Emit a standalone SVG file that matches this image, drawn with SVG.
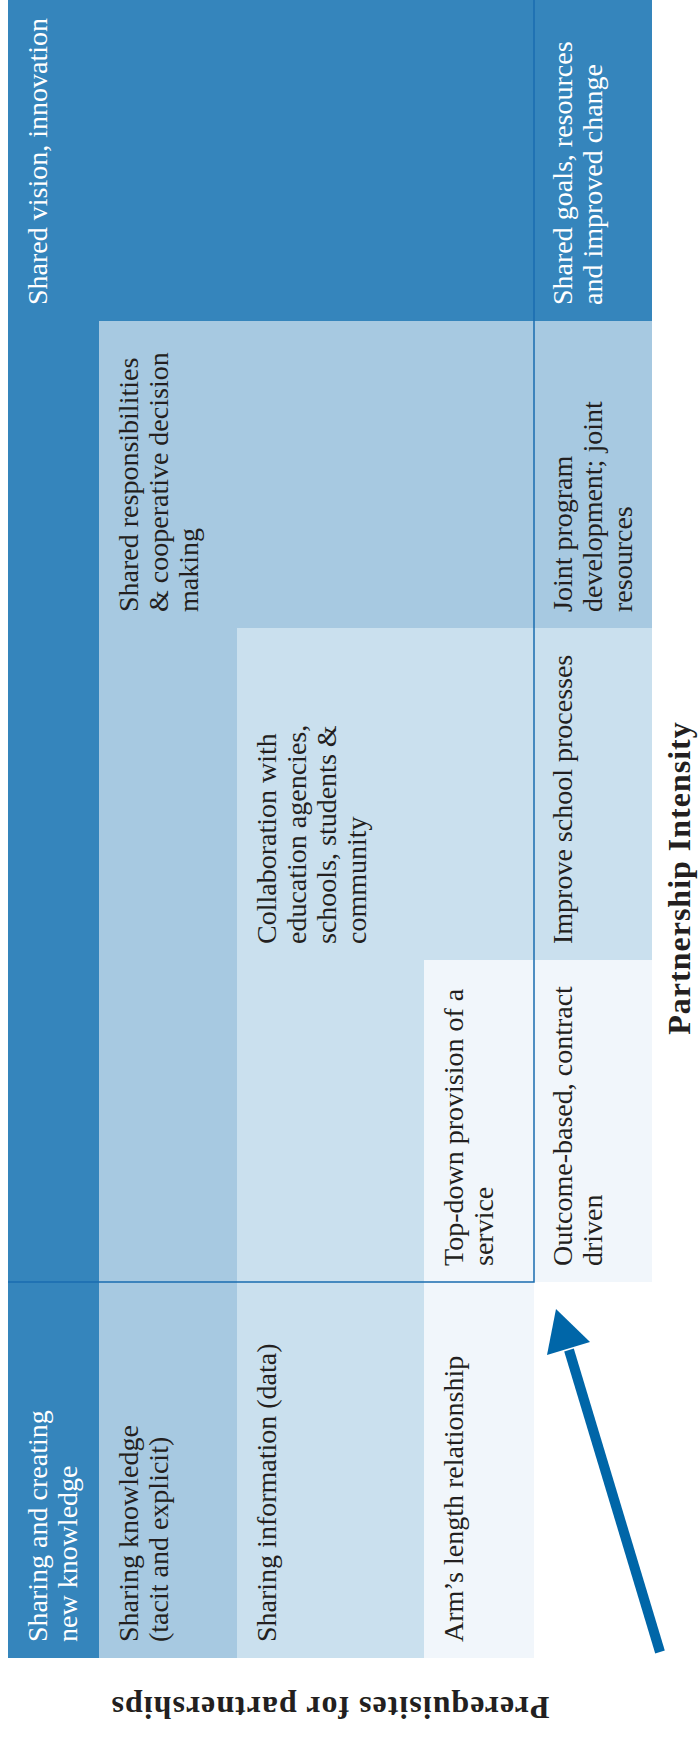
<svg xmlns="http://www.w3.org/2000/svg" width="699" height="1747" viewBox="0 0 699 1747">
<style>
.t{font-family:"Liberation Serif","Times New Roman",serif;font-size:28px}
.w{fill:#ffffff}
.k{fill:#231f20}
.b{font-family:"Liberation Serif","Times New Roman",serif;font-size:32px;font-weight:bold;fill:#231f20;letter-spacing:1px}
.c1{fill:#3585bc}
.c2{fill:#a7c9e1}
.c3{fill:#cae0ee}
.c4{fill:#f1f6fb}
.rule{stroke:#1a6cb0;stroke-width:1.5;fill:none}
.arrow{fill:#0066a8}
</style>
<g id="bands">
<rect class="c1" x="8" y="0" width="644" height="321"/>
<rect class="c1" x="8" y="321" width="91" height="1337"/>
<rect class="c2" x="99" y="321" width="553" height="307"/>
<rect class="c2" x="99" y="628" width="138" height="1030"/>
<rect class="c3" x="237" y="628" width="415" height="332"/>
<rect class="c3" x="237" y="960" width="187" height="698"/>
<rect class="c4" x="424" y="960" width="228" height="322"/>
<rect class="c4" x="424" y="1282" width="110" height="376"/>
</g>
<g id="connectors">
<path class="rule" d="M534,0 V1282 H8"/>
<path d="M660,1652 L569,1350" stroke="#0066a8" stroke-width="10" fill="none"/>
<polygon class="arrow" points="556,1309 590,1342 547,1355"/>
</g>
<g id="node-shared-vision">
<text class="t w" transform="translate(47,305) rotate(-90)"><tspan x="0" y="0">Shared vision, innovation</tspan></text>
</g>
<g id="node-shared-goals">
<text class="t w" transform="translate(572,305) rotate(-90)"><tspan x="0" y="0">Shared goals, resources</tspan><tspan x="0" dy="30">and improved change</tspan></text>
</g>
<g id="node-shared-responsibilities">
<text class="t k" transform="translate(138,612) rotate(-90)"><tspan x="0" y="0">Shared responsibilities</tspan><tspan x="0" dy="30">&amp; cooperative decision</tspan><tspan x="0" dy="30">making</tspan></text>
</g>
<g id="node-joint-program">
<text class="t k" transform="translate(572,612) rotate(-90)"><tspan x="0" y="0">Joint program</tspan><tspan x="0" dy="30">development; joint</tspan><tspan x="0" dy="30">resources</tspan></text>
</g>
<g id="node-collaboration">
<text class="t k" transform="translate(276,944) rotate(-90)"><tspan x="0" y="0">Collaboration with</tspan><tspan x="0" dy="30">education agencies,</tspan><tspan x="0" dy="30">schools, students &amp;</tspan><tspan x="0" dy="30">community</tspan></text>
</g>
<g id="node-improve-school">
<text class="t k" transform="translate(572,944) rotate(-90)"><tspan x="0" y="0">Improve school processes</tspan></text>
</g>
<g id="node-top-down">
<text class="t k" transform="translate(463,1266) rotate(-90)"><tspan x="0" y="0">Top-down provision of a</tspan><tspan x="0" dy="30">service</tspan></text>
</g>
<g id="node-outcome-based">
<text class="t k" transform="translate(572,1266) rotate(-90)"><tspan x="0" y="0">Outcome-based, contract</tspan><tspan x="0" dy="30">driven</tspan></text>
</g>
<g id="node-sharing-creating">
<text class="t w" transform="translate(47,1642) rotate(-90)"><tspan x="0" y="0">Sharing and creating</tspan><tspan x="0" dy="30">new knowledge</tspan></text>
</g>
<g id="node-sharing-knowledge">
<text class="t k" transform="translate(138,1642) rotate(-90)"><tspan x="0" y="0">Sharing knowledge</tspan><tspan x="0" dy="30">(tacit and explicit)</tspan></text>
</g>
<g id="node-sharing-information">
<text class="t k" transform="translate(276,1642) rotate(-90)"><tspan x="0" y="0">Sharing information (data)</tspan></text>
</g>
<g id="node-arms-length">
<text class="t k" transform="translate(463,1642) rotate(-90)"><tspan x="0" y="0">Arm’s length relationship</tspan></text>
</g>
<g id="label-intensity">
<text class="b" text-anchor="middle" transform="translate(690,878) rotate(-90)">Partnership Intensity</text>
</g>
<g id="label-prerequisites">
<text class="b" text-anchor="middle" transform="translate(330,1697) rotate(180)">Prerequisites for partnerships</text>
</g>
</svg>
